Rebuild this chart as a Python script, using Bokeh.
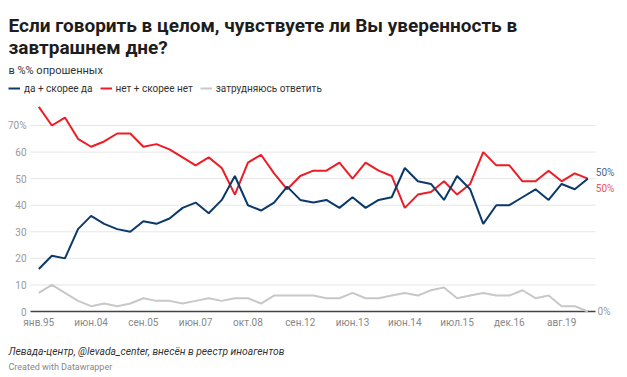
from bokeh.plotting import figure
from bokeh.models import Range1d, Label, Legend, LegendItem
from bokeh.embed import file_html
from bokeh.resources import INLINE

# ---- data ----
yes = [16, 21, 20, 31, 36, 33, 31, 30, 34, 33, 35, 39, 41, 37, 42, 51, 40, 38, 41, 47,
       42, 41, 42, 39, 43, 39, 42, 43, 54, 49, 48, 42, 51, 46, 33, 40, 40, 43, 46, 42,
       48, 46, 50]
no = [77, 70, 73, 65, 62, 64, 67, 67, 62, 63, 61, 58, 55, 58, 54, 44, 56, 59, 52, 46,
      51, 53, 53, 56, 50, 56, 53, 51, 39, 44, 45, 49, 44, 48, 60, 55, 55, 49, 49, 53,
      49, 52, 50]
hard = [7, 10, 7, 4, 2, 3, 2, 3, 5, 4, 4, 3, 4, 5, 4, 5, 5, 3, 6, 6,
        6, 6, 5, 5, 7, 5, 5, 6, 7, 6, 8, 9, 5, 6, 7, 6, 6, 8, 5, 6,
        2, 2, 0]
tick_pos = [0, 4, 8, 12, 16, 20, 24, 28, 32, 36, 40]
tick_labels = ["янв.95", "июн.04", "сен.05", "июн.07", "окт.08", "сен.12",
               "июн.13", "июн.14", "июл.15", "дек.16", "авг.19"]
y_ticks = [0, 10, 20, 30, 40, 50, 60, 70]
y_labels = ["0", "10", "20", "30", "40", "50", "60", "70%"]
series_names = ["да + скорее да", "нет + скорее нет", "затрудняюсь ответить"]

FONT = "Roboto"
BLUE = "#0b3a6a"
RED = "#ee1c25"
GRAY = "#c8c8c8"

W, H = 627, 377
xs = list(range(len(yes)))
x_lo, x_hi = -0.635, len(yes) - 1 + 0.59   # extent of the grid

p = figure(width=W, height=H, output_backend="svg", toolbar_location=None,
           x_range=Range1d(-2.930, 45.037), y_range=Range1d(-24.84, 117.05),
           min_border=0, title=None, x_axis_type=None, y_axis_type=None)
p.outline_line_color = None
p.background_fill_color = "white"
p.border_fill_color = "white"
p.grid.visible = False

# grid lines and baseline
grid_y = y_ticks[1:]
p.segment(x0=[x_lo] * len(grid_y), x1=[x_hi] * len(grid_y), y0=grid_y, y1=grid_y,
          line_color="#e6e6e6", line_width=1)
p.segment(x0=[x_lo], x1=[x_hi], y0=[0], y1=[0], line_color="#444444", line_width=1.5)

# y tick labels
p.text(x=[x_lo] * len(y_ticks), y=y_ticks, text=y_labels, x_offset=-4,
       text_align="right", text_baseline="middle", text_font={"value": FONT},
       text_font_size="10px", text_color="#999999")
p.text(x=[x_hi], y=[0], text=["0%"], x_offset=2, text_align="left",
       text_baseline="middle", text_font={"value": FONT}, text_font_size="10px",
       text_color="#999999")

# x tick labels
p.text(x=tick_pos, y=[0] * len(tick_pos), text=tick_labels, y_offset=11,
       text_align="center", text_baseline="middle", text_font={"value": FONT},
       text_font_size="10px", text_color="#888888")

r_hard = p.line(xs, hard, line_color=GRAY, line_width=2)
r_no = p.line(xs, no, line_color=RED, line_width=2)
r_yes = p.line(xs, yes, line_color=BLUE, line_width=2)

# end labels
p.text(x=[xs[-1]], y=[yes[-1]], text=[f"{yes[-1]}%"], x_offset=8, y_offset=-6,
       text_baseline="middle", text_font={"value": FONT}, text_font_size="10px",
       text_color="#4a6a8c")
p.text(x=[xs[-1]], y=[no[-1]], text=[f"{no[-1]}%"], x_offset=8, y_offset=9.5,
       text_baseline="middle", text_font={"value": FONT}, text_font_size="10px",
       text_color="#f0545a")

legend = Legend(items=[LegendItem(label=series_names[0], renderers=[r_yes]),
                       LegendItem(label=series_names[1], renderers=[r_no]),
                       LegendItem(label=series_names[2], renderers=[r_hard])],
                location=(8, H - 95), orientation="horizontal",
                glyph_width=12, glyph_height=14, label_height=14,
                label_standoff=4, spacing=7, padding=0, margin=0,
                label_text_font=FONT, label_text_font_size="10px",
                label_text_color="#333333",
                background_fill_alpha=0, border_line_alpha=0)
p.add_layout(legend, "center")

# titles (screen positions measured from the bottom-left corner)
for txt, yy in [("Если говорить в целом, чувствуете ли Вы уверенность в", H - 25),
                ("завтрашнем дне?", H - 47)]:
    p.add_layout(Label(x=8, y=yy, x_units="screen", y_units="screen", text=txt,
                       text_font=FONT, text_font_size="19px", text_font_style="bold",
                       text_color="#1d1d1d", text_baseline="alphabetic"))
p.add_layout(Label(x=8, y=H - 70, x_units="screen", y_units="screen",
                   text="в %% опрошенных", text_font=FONT, text_font_size="11px",
                   text_color="#333333", text_baseline="alphabetic"))
p.add_layout(Label(x=8, y=H - 351, x_units="screen", y_units="screen",
                   text="Левада-центр, @levada_center, внесён в реестр иноагентов",
                   text_font=FONT, text_font_size="10.3px", text_font_style="italic",
                   text_color="#333333", text_baseline="alphabetic"))
p.add_layout(Label(x=8, y=H - 366.5, x_units="screen", y_units="screen",
                   text="Created with Datawrapper", text_font=FONT,
                   text_font_size="9px", text_color="#888888",
                   text_baseline="alphabetic"))

open("out.html", "w").write(file_html(p, INLINE))
